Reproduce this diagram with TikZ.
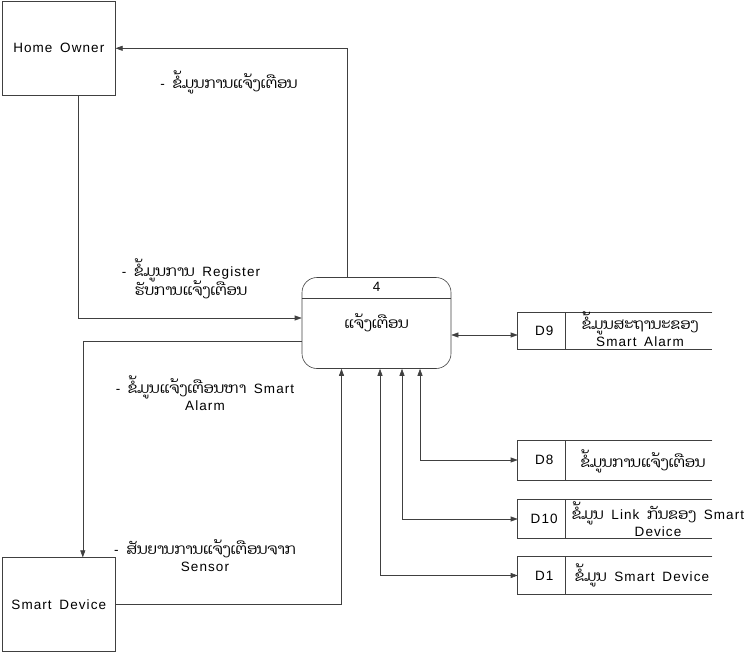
\documentclass[tikz,border=0pt]{standalone}
\usepackage{fontspec}
\setmainfont{Liberation Sans}[LetterSpace=8,WordSpace=1.6]
\newfontfamily\laofont[Script=Lao,Scale=1.1]{Dhyana}
\newcommand{\lo}[1]{{\laofont #1}}
\usetikzlibrary{arrows.meta,positioning,calc}
\tikzset{
    >={Triangle[length=7pt,width=5pt]},
    every picture/.style={line width=0.6pt},
    entity/.style={rectangle,draw=black!75,minimum width=113pt,minimum height=94pt,inner sep=0pt},
    process/.style={rectangle,draw=black!75,rounded corners=15pt,minimum width=149pt,minimum height=91pt},
    store/.style={rectangle,minimum width=194pt,inner sep=0pt},
    flow/.style={draw=black!75},
    lbl/.style={align=center,inner sep=1pt}
}
\begin{document}
\begin{tikzpicture}[x=1pt,y=-1pt,font=\fontsize{13.5}{19}\selectfont]
    \useasboundingbox (0,0) rectangle (755,653);
    % External entities
    \node[entity] (owner) at (58.8,48.3) {Home Owner};
    \node[entity] (device) at (58.8,604.7) {Smart Device};

    % Process 4
    \node[process] (proc) at (376.5,323) {};
    \draw[black!75] ([yshift=-21pt]proc.north west) -- ([yshift=-21pt]proc.north east);
    \node (procnum) at (376.5,287) {4};
    \node (proctext) at (376.5,323) {\lo{ແຈ້ງເຕືອນ}};

    % Data stores
    \foreach \name/\ypos/\h/\id in {d9/331/36/D9, d8/460/39/D8, d10/519/38/D10, d1/575.5/37/D1} {
        \node[store,minimum height=\h pt] (\name) at (615,\ypos) {};
        \draw[black!75] (\name.north east) -- (\name.north west) -- (\name.south west) -- (\name.south east);
        \draw[black!75] ([xshift=48pt]\name.north west) -- ([xshift=48pt]\name.south west);
        \node (\name id) at ([xshift=26.5pt]\name.west) {\id};
    }
    \node[lbl] (d9txt) at (640,329) {\lo{ຂໍ້ມູນສະຖານະຂອງ}\\[-2pt]Smart Alarm};
    \node[lbl] (d8txt) at (643,461) {\lo{ຂໍ້ມູນການແຈ້ງເຕືອນ}};
    \node[lbl] (d10txt) at (658,519) {\lo{ຂໍ້ມູນ} Link \lo{ກັນຂອງ} Smart\\[-2pt]Device};
    \node[lbl] (d1txt) at (642,575) {\lo{ຂໍ້ມູນ} Smart Device};

    % Flows
    \draw[flow,->] (proc.north west) ++(46,0) |- (owner.east);
    \draw[flow,->] ([xshift=19pt]owner.south) |- ([yshift=5pt]proc.west);
    \draw[flow,->] ([yshift=-18pt]proc.west) -| ([xshift=24pt]device.north);
    \draw[flow,->] (device.east) -| ([xshift=-35pt]proc.south);
    \draw[flow,<->] ([yshift=-12pt]proc.east) -- ([yshift=-12pt]proc.east -| d9.west);
    \draw[flow,<->] ([xshift=43.5pt]proc.south) |- (d8.west);
    \draw[flow,<->] ([xshift=25.5pt]proc.south) |- (d10.west);
    \draw[flow,<->] ([xshift=3.5pt]proc.south) |- (d1.west);

    % Flow labels
    \node[lbl] (notelbl) at (229,82) {- \lo{ຂໍ້ມູນການແຈ້ງເຕືອນ}};
    \node[lbl] (reglbl) at (191,279) {- \lo{ຂໍ້ມູນການ} Register\\[-2pt]\lo{ຮັບການແຈ້ງເຕືອນ}};
    \node[lbl] (alarmlbl) at (205,393) {- \lo{ຂໍ້ມູນແຈ້ງເຕືອນຫາ} Smart\\[-2pt]Alarm};
    \node[lbl] (sensorlbl) at (205,556) {- \lo{ສັນຍານການແຈ້ງເຕືອນຈາກ}\\[-2pt]Sensor};
\end{tikzpicture}
\end{document}
